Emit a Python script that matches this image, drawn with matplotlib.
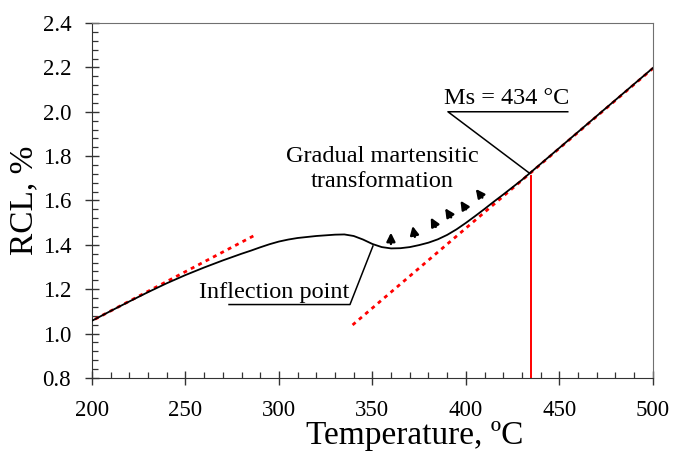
import numpy as np
import matplotlib
matplotlib.use("Agg")
import matplotlib.pyplot as plt
from matplotlib.ticker import MultipleLocator

temp = [200, 210, 220, 230, 240, 250, 260, 270, 280, 285, 290, 295, 300, 305,
        310, 320, 330, 335, 340, 345, 350, 355, 360, 365, 370, 375, 380, 385,
        390, 395, 400, 405, 410, 415, 420, 425, 430, 434, 450, 475, 500]
rcl = [1.058, 1.102, 1.145, 1.187, 1.227, 1.264, 1.298, 1.330, 1.360, 1.374,
       1.389, 1.403, 1.415, 1.424, 1.431, 1.440, 1.446, 1.447, 1.440, 1.424,
       1.404, 1.390, 1.384, 1.385, 1.390, 1.399, 1.410, 1.425, 1.445, 1.470,
       1.499, 1.530, 1.562, 1.595, 1.627, 1.660, 1.693, 1.722, 1.837, 2.017,
       2.197]

# tangent lines (red dotted)
tan_low_x = [201.6, 287.2]
tan_low_y = [1.065, 1.444]
tan_high_x = [339.4, 500.0]
tan_high_y = [1.039, 2.195]

# Ms marker
ms_temp = 435
ms_top = 1.71

# arrows: tail and head
arr_tail_x = [359.9, 372.7, 383.9, 392.1, 400.1, 408.8]
arr_tail_y = [1.404, 1.436, 1.481, 1.524, 1.560, 1.613]
arr_head_x = [359.9, 371.5, 381.2, 388.9, 397.1, 405.3]
arr_head_y = [1.455, 1.485, 1.523, 1.565, 1.599, 1.652]

# label leaders: underline start, underline end, point
infl_leader_x = [273.3, 338.0, 350.3]
infl_leader_y = [1.131, 1.131, 1.395]
ms_leader_x = [454.5, 390.4, 434.2]
ms_leader_y = [2.0, 2.0, 1.722]

plt.rcParams["font.family"] = ["Liberation Serif", "DejaVu Serif"]

fig = plt.figure(figsize=(6.73, 4.53), dpi=100)
ax = fig.add_axes([0.1367, 0.1656, 0.8333, 0.7836])

ax.plot(temp, rcl, color="black", lw=1.3, zorder=3)
ax.plot(tan_low_x, tan_low_y, color="red", lw=2, ls=(0, (1.4, 1.6)), zorder=2)
ax.plot(tan_high_x, tan_high_y, color="red", lw=2, ls=(0, (1.4, 1.6)), zorder=2)
ax.plot([ms_temp, ms_temp], [0.8, ms_top], color="red", lw=1.4, zorder=2)

for tx, ty, hx, hy in zip(arr_tail_x, arr_tail_y, arr_head_x, arr_head_y):
    ax.annotate("", xy=(hx, hy), xytext=(tx, ty),
                arrowprops=dict(arrowstyle="-|>,head_length=0.5,head_width=0.25",
                                color="black", lw=1.7, shrinkA=0, shrinkB=0))

ax.plot(infl_leader_x, infl_leader_y, color="black", lw=1.1)
ax.plot(ms_leader_x, ms_leader_y, color="black", lw=1.1)

ax.text(355.1, 1.742, "Gradual martensitic\ntransformation", ha="center",
        va="center", fontsize=17.5, linespacing=1.3)
ax.text(297.5, 1.184, "Inflection point", ha="center", va="center", fontsize=17.5)
ax.text(422.0, 2.058, "Ms = 434 °C", ha="center", va="center", fontsize=17.5)

ax.set_xlim(200, 500)
ax.set_ylim(0.8, 2.4)
ax.xaxis.set_major_locator(MultipleLocator(50))
ax.xaxis.set_minor_locator(MultipleLocator(10))
ax.yaxis.set_major_locator(MultipleLocator(0.2))
ax.yaxis.set_minor_locator(MultipleLocator(0.04))
ax.yaxis.set_major_formatter(plt.FormatStrFormatter("%.1f"))
ax.tick_params(which="major", direction="inout", length=10, width=1,
               labelsize=16.5, color="#333333")
ax.tick_params(which="minor", direction="in", length=4.5, width=0.9,
               color="#333333")
ax.tick_params(axis="x", pad=11)
ax.tick_params(axis="y", pad=10)

for s in ["left", "bottom"]:
    ax.spines[s].set_color("#333333")
for s in ["top", "right"]:
    ax.spines[s].set_color("#707070")

ax.set_xlabel("Temperature, ºC", fontsize=24)
ax.xaxis.set_label_coords(0.576, -0.12)
ax.set_ylabel("RCL, %", fontsize=24, labelpad=2)

fig.savefig("out.png", dpi=100)
